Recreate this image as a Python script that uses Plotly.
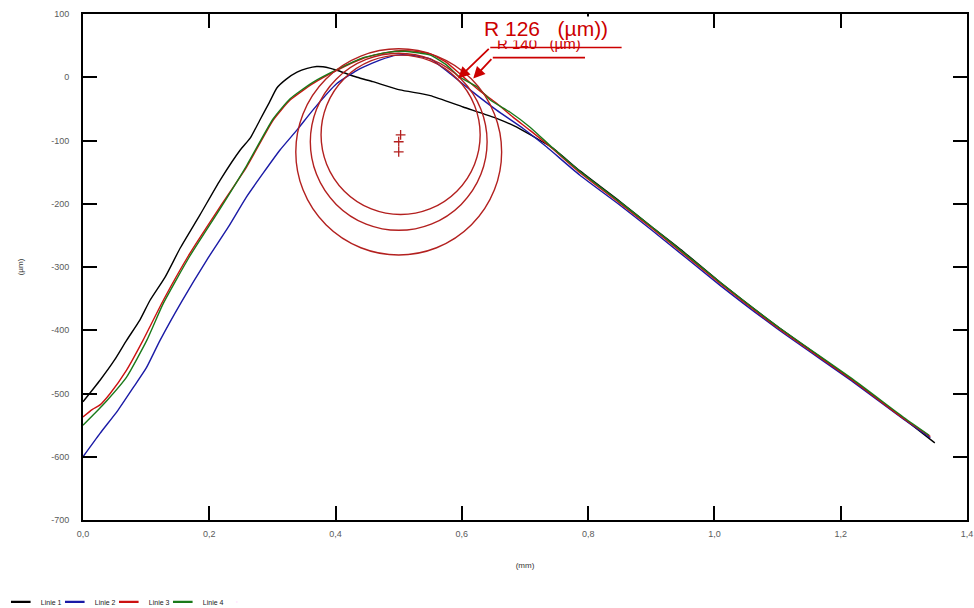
import plotly.graph_objects as go

# ---------------- data (mm, µm) ----------------
x1 = [0.000, 0.027, 0.050, 0.069, 0.090, 0.106, 0.130, 0.154, 0.185, 0.217,
      0.249, 0.265, 0.280, 0.295, 0.307, 0.322, 0.339, 0.355, 0.370, 0.380,
      0.392, 0.402, 0.434, 0.459, 0.502, 0.550, 0.602, 0.655, 0.687, 0.724,
      0.744, 0.787, 0.850, 0.900, 0.950, 1.009, 1.100, 1.160, 1.220, 1.300, 1.349]
y1 = [-513, -479, -447, -416, -384, -353, -316, -270, -218, -163,
      -115, -96, -68, -40, -17, -3, 8, 14, 17, 16.5,
      14, 11, 0, -7, -20, -29, -47, -65, -79, -100,
      -112, -148, -196, -236, -275, -324, -394, -437, -480, -540, -578]

x2 = [0.000, 0.027, 0.055, 0.080, 0.100, 0.122, 0.156, 0.196, 0.230, 0.259,
      0.285, 0.312, 0.340, 0.364, 0.402, 0.434, 0.470, 0.497, 0.518, 0.550,
      0.581, 0.613, 0.655, 0.697, 0.734, 0.787, 0.850, 0.900, 1.009, 1.100,
      1.220, 1.300, 1.342]
y2 = [-600, -563, -527, -490, -460, -416, -355, -289, -237, -189,
      -152, -115, -82, -52, -10, 11, 27, 35, 35, 29,
      6, -20, -52, -81, -110, -155, -202, -241, -329, -398,
      -482, -541, -570]

x3 = [0.000, 0.015, 0.027, 0.043, 0.069, 0.095, 0.127, 0.169, 0.217, 0.259,
      0.301, 0.328, 0.364, 0.402, 0.444, 0.470, 0.502, 0.534, 0.550, 0.575,
      0.602, 0.629, 0.655, 0.681, 0.708, 0.740, 0.787, 0.850, 0.900, 1.009,
      1.100, 1.220, 1.300, 1.342]
y3 = [-537, -525, -518, -500, -463, -416, -353, -279, -205, -142,
      -68, -36, -10, 11, 30, 37, 42, 40, 37, 24,
      1, -22, -41, -63, -84, -110, -151, -199, -238, -326,
      -396, -480, -540, -568]

x4 = [0.000, 0.020, 0.038, 0.069, 0.101, 0.127, 0.169, 0.217, 0.259, 0.301,
      0.328, 0.364, 0.402, 0.444, 0.480, 0.510, 0.550, 0.575, 0.597, 0.624,
      0.645, 0.676, 0.708, 0.744, 0.787, 0.850, 0.900, 1.009, 1.100, 1.220,
      1.300, 1.340]
y4 = [-550, -530, -511, -474, -416, -358, -283, -208, -140, -66,
      -34, -8, 12, 31, 39, 41, 35, 20, 0, -15,
      -36, -55, -79, -112, -149, -197, -236, -324, -394, -478,
      -538, -566]

series_names = ["Linie 1", "Linie 2", "Linie 3", "Linie 4"]
series_colors = ["#000000", "#1a1aa6", "#cc1111", "#1a7a1a"]

# fitted radius circles (centre mm, centre µm, radius µm)
circle_cx = [0.503, 0.500, 0.500]
circle_cy = [-91, -102, -118]
circle_r = [126, 140, 163]

# radius label + leader lines
label_main = "R 126   (µm))"
label_back = "R 140   (µm)"
leader1_x = [0.853, 0.645]
leader1_y = [47, 47]
leader1_tip = (0.594, -2)
leader2_x = [0.795, 0.649]
leader2_y = [31, 31]
leader2_tip = (0.618, -2)

x_ticks = [0.0, 0.2, 0.4, 0.6, 0.8, 1.0, 1.2, 1.4]
x_tick_labels = ["0,0", "0,2", "0,4", "0,6", "0,8", "1,0", "1,2", "1,4"]
y_ticks = [100, 0, -100, -200, -300, -400, -500, -600, -700]
y_tick_labels = ["100", "0", "-100", "-200", "-300", "-400", "-500", "-600", "-700"]

RED = "#cc0000"
CIRCLE_RED = "#b3201f"

fig = go.Figure()

for xs, ys, name, col in zip([x1, x2, x3, x4], [y1, y2, y3, y4], series_names, series_colors):
    fig.add_trace(go.Scatter(x=xs, y=ys, mode="lines", name=name, legendgroup=name,
                             showlegend=False,
                             line=dict(color=col, width=1.4, shape="spline", smoothing=0.5)))

# legend entries: short line symbols like the original
for name, col in zip(series_names, series_colors):
    fig.add_trace(go.Scatter(x=[None], y=[None], mode="markers", name=name, legendgroup=name,
                             marker=dict(symbol="line-ew", size=14,
                                         line=dict(color=col, width=2.2))))
# empty spacer entry so the last legend text is not clipped
fig.add_trace(go.Scatter(x=[None], y=[None], mode="markers", name=" ",
                         marker=dict(size=1, opacity=0)))

# circle centres
fig.add_trace(go.Scatter(x=circle_cx, y=circle_cy, mode="markers", showlegend=False,
                         marker=dict(symbol="cross-thin", size=7,
                                     line=dict(color=CIRCLE_RED, width=1.3))))

# leader lines
for lx, ly in [(leader1_x, leader1_y), (leader2_x, leader2_y)]:
    fig.add_trace(go.Scatter(x=lx, y=ly, mode="lines", showlegend=False,
                             line=dict(color=RED, width=1.6)))

shapes = []
for cx, cy, r in zip(circle_cx, circle_cy, circle_r):
    shapes.append(dict(type="circle", xref="x", yref="y",
                       x0=cx - r / 1000.0, x1=cx + r / 1000.0, y0=cy - r, y1=cy + r,
                       line=dict(color=CIRCLE_RED, width=1.4), layer="above"))

annotations = [
    dict(x=leader1_tip[0], y=leader1_tip[1], ax=leader1_x[1], ay=leader1_y[1],
         xref="x", yref="y", axref="x", ayref="y", text="", showarrow=True,
         arrowhead=2, arrowsize=1.3, arrowwidth=1.8, arrowcolor=RED),
    dict(x=leader2_tip[0], y=leader2_tip[1], ax=leader2_x[1], ay=leader2_y[1],
         xref="x", yref="y", axref="x", ayref="y", text="", showarrow=True,
         arrowhead=2, arrowsize=1.3, arrowwidth=1.8, arrowcolor=RED),
    dict(x=0.722, y=54, xref="x", yref="y", text=label_back, showarrow=False,
         font=dict(family="Liberation Sans, Arial", size=15, color=RED)),
    dict(x=0.733, y=77, xref="x", yref="y", text=label_main, showarrow=False,
         bgcolor="white", borderpad=0,
         font=dict(family="Liberation Sans, Arial", size=21, color=RED)),
]

axis_common = dict(
    showline=True, linewidth=2, linecolor="black", mirror="ticks",
    ticks="inside", ticklen=14, tickwidth=1.6, tickcolor="black",
    showgrid=False, zeroline=False, automargin=False,
    tickfont=dict(family="Liberation Sans, Arial", size=9, color="#5a5a5a"),
)

fig.update_layout(
    width=974, height=608, autosize=False,
    margin=dict(l=83, r=7, t=14, b=88, autoexpand=False),
    paper_bgcolor="white", plot_bgcolor="white",
    font=dict(family="Liberation Sans, Arial", color="#333333"),
    xaxis=dict(range=[0, 1.4], tickvals=x_ticks, ticktext=x_tick_labels,
               title=dict(text="(mm)", font=dict(size=8, color="#333333"), standoff=25),
               ticklabelstandoff=4, **axis_common),
    yaxis=dict(range=[-700, 100], tickvals=y_ticks, ticktext=y_tick_labels,
               title=dict(text="(µm)", font=dict(size=8, color="#333333"), standoff=26),
               ticklabelstandoff=10, **axis_common),
    shapes=shapes,
    annotations=annotations,
    showlegend=True,
    legend=dict(orientation="h", x=-0.093, y=-0.162, xanchor="left", yanchor="middle",
                font=dict(family="Liberation Sans, Arial", size=7, color="#222222"),
                itemwidth=30, entrywidth=9, entrywidthmode="pixels",
                bgcolor="rgba(0,0,0,0)"),
)

fig.write_html("out.html", config={"displayModeBar": False},
               post_script="document.body.style.margin='0px';document.body.style.overflow='hidden';")
